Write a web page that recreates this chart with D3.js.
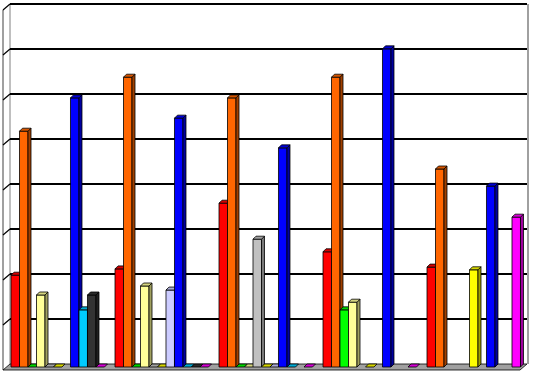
<!DOCTYPE html>
<html>
<head>
<meta charset="utf-8">
<script src="https://cdn.jsdelivr.net/npm/d3@7"></script>
<style>
  html, body { margin: 0; padding: 0; background: #fff; }
  svg { display: block; }
</style>
</head>
<body>
<div id="chart"></div>
<script>
// ---- data ----
const categories = ["1", "2", "3", "4", "5"];
const seriesNames = ["S1", "S2", "S3", "S4", "S5", "S6", "S7", "S8", "S9", "S10", "S11"];
const seriesColors = ["#FF0000", "#FF6600", "#00FF00", "#FFFF99", "#C0C0C0", "#FFFF00",
                      "#CCCCFF", "#0000FF", "#00CCFF", "#333333", "#FF00FF"];
// values per series, one per category (null = no value)
const s1  = [20.4, 21.8, 36.4, 25.6, 22.2];
const s2  = [52.4, 64.4, 59.8, 64.4, 44.0];
const s3  = [0, 0, 0, 12.7, null];
const s4  = [16.0, 18.0, 0, 14.4, null];
const s5  = [0, 0, 28.4, null, null];
const s6  = [0, 0, 0, 0, 21.6];
const s7  = [null, 17.1, 0, null, null];
const s8  = [59.8, 55.3, 48.7, 70.7, 40.2];
const s9  = [12.7, 0, 0, null, null];
const s10 = [16.0, 0, null, null, null];
const s11 = [0, 0, 0, 0, 33.3];
const seriesValues = [s1, s2, s3, s4, s5, s6, s7, s8, s9, s10, s11];
const yTicks = [0, 10, 20, 30, 40, 50, 60, 70, 80];

// ---- layout ----
const W = 535, H = 372;
const depthX = 7, depthY = 6;        // floor / wall depth
const barD = 3;                       // bar depth offset
const backBase = 364, backTop = 4;
const leftFront = 3, rightBack = 527;

const svg = d3.select("#chart").append("svg")
  .attr("width", W).attr("height", H);

svg.append("rect").attr("width", W).attr("height", H).attr("fill", "#fff");

const y = d3.scaleLinear().domain([0, 80]).range([backBase, backTop]);
// front plane of bars is shifted by bar depth
const yFront = d3.scaleLinear().domain([0, 80]).range([backBase + barD, backTop + barD]);

const x0 = d3.scaleBand().domain(categories)
  .range([leftFront + 2.75, leftFront + 2.75 + 520]).paddingInner(0.101).paddingOuter(0.0505);
const x1 = d3.scaleBand().domain(seriesNames).range([0, x0.bandwidth()]);

// left wall
svg.append("polygon")
  .attr("points", [[leftFront, backBase + depthY], [leftFront, backTop + depthY],
                   [leftFront + depthX, backTop], [leftFront + depthX, backBase]].join(" "))
  .attr("fill", "#fff").attr("stroke", "none");
svg.append("line")
  .attr("x1", leftFront).attr("x2", leftFront)
  .attr("y1", backTop + depthY).attr("y2", backBase + depthY)
  .attr("stroke", "#808080").attr("stroke-width", 1.5);
svg.append("line")
  .attr("x1", leftFront + depthX).attr("x2", leftFront + depthX)
  .attr("y1", backTop).attr("y2", backBase)
  .attr("stroke", "#808080").attr("stroke-width", 1);

// right wall edge
svg.append("line")
  .attr("x1", rightBack + 1).attr("x2", rightBack + 1)
  .attr("y1", backTop).attr("y2", backBase)
  .attr("stroke", "#808080").attr("stroke-width", 1.5);

// gridlines (back wall + left wall)
const grid = svg.append("g");
yTicks.forEach(t => {
  if (t === 0) return;
  const yy = y(t);
  grid.append("line")
    .attr("x1", leftFront + depthX).attr("x2", rightBack)
    .attr("y1", yy).attr("y2", yy)
    .attr("stroke", "#000").attr("stroke-width", 2);
  grid.append("line")
    .attr("x1", leftFront).attr("x2", leftFront + depthX)
    .attr("y1", yy + depthY).attr("y2", yy)
    .attr("stroke", "#000").attr("stroke-width", 1.2);
});

// floor
svg.append("polygon")
  .attr("points", [[leftFront, backBase + depthY], [rightBack - depthX, backBase + depthY],
                   [rightBack, backBase], [leftFront + depthX, backBase]].join(" "))
  .attr("fill", "#A0A0A0").attr("stroke", "#000").attr("stroke-width", 0.8);

// bars
const bars = svg.append("g");
categories.forEach((cat, ci) => {
  seriesNames.forEach((sn, si) => {
    const v = seriesValues[si][ci];
    if (v === null || v === undefined) return;
    const col = d3.color(seriesColors[si]);
    const bx = x0(cat) + x1(sn);
    const bw = x1.bandwidth();
    const base = yFront(0);
    const top = yFront(v);
    const g = bars.append("g").attr("stroke", "#000").attr("stroke-width", 0.8)
      .attr("stroke-linejoin", "round");
    if (v > 0) {
      g.append("rect").attr("x", bx).attr("y", top).attr("width", bw).attr("height", base - top)
        .attr("fill", col.formatHex());
      g.append("polygon")
        .attr("points", [[bx + bw, top], [bx + bw + barD, top - barD], [bx + bw + barD, base - barD], [bx + bw, base]].join(" "))
        .attr("fill", col.darker(1.3).formatHex());
    }
    g.append("polygon")
      .attr("points", [[bx, top], [bx + barD, top - barD], [bx + bw + barD, top - barD], [bx + bw, top]].join(" "))
      .attr("fill", col.darker(0.5).formatHex());
  });
});
</script>
</body>
</html>
